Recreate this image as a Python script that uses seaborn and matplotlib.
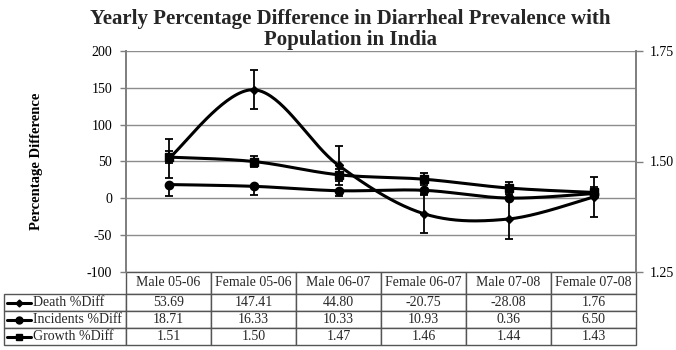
import numpy as np
import pandas as pd
import matplotlib
matplotlib.use("Agg")
import matplotlib.pyplot as plt
import seaborn as sns

# data
categories = ["Male 05-06", "Female 05-06", "Male 06-07", "Female 06-07", "Male 07-08", "Female 07-08"]
death = [53.69, 147.41, 44.80, -20.75, -28.08, 1.76]
incidents = [18.71, 16.33, 10.33, 10.93, 0.36, 6.50]
growth = [1.51, 1.50, 1.47, 1.46, 1.44, 1.43]
death_err = [26.6, 26.6, 26.6, 26.6, 26.6, 26.6]
incidents_err_low = [15, 12, 7, 7, 0.3, 3]
growth_err = [0.013, 0.013, 0.013, 0.013, 0.013, 0.013]
row_labels = ["Death %Diff", "Incidents %Diff", "Growth %Diff"]
title_lines = ["Yearly Percentage Difference in Diarrheal Prevalence with", "Population in India"]

sns.set_theme(style="white")
plt.rcParams["font.family"] = ["Liberation Serif", "DejaVu Serif"]
plt.rcParams["axes.unicode_minus"] = False


def smooth(xs, ys, n=40):
    # excel-like smoothed line (bezier with catmull-rom control points)
    xs = np.asarray(xs, float)
    ys = np.asarray(ys, float)
    px = np.concatenate([[xs[0]], xs, [xs[-1]]])
    py = np.concatenate([[ys[0]], ys, [ys[-1]]])
    outx, outy = [], []
    t = np.linspace(0, 1, n)
    for i in range(1, len(px) - 2):
        p0 = np.array([px[i], py[i]])
        p3 = np.array([px[i + 1], py[i + 1]])
        c1 = p0 + (np.array([px[i + 1], py[i + 1]]) - np.array([px[i - 1], py[i - 1]])) / 6
        c2 = p3 - (np.array([px[i + 2], py[i + 2]]) - np.array([px[i], py[i]])) / 6
        b = ((1 - t) ** 3)[:, None] * p0 + (3 * (1 - t) ** 2 * t)[:, None] * c1 \
            + (3 * (1 - t) * t ** 2)[:, None] * c2 + (t ** 3)[:, None] * p3
        outx.extend(b[:, 0])
        outy.extend(b[:, 1])
    return pd.DataFrame({"x": outx, "y": outy})


fig = plt.figure(figsize=(6.76, 3.5), dpi=100)
ax = fig.add_axes([126 / 676, 1 - 272 / 350, 510 / 676, 221 / 350])
ax2 = ax.twinx()

x = np.arange(len(categories))
lw = 2.2

# primary axis: death and incidents
ax.errorbar(x, death, yerr=death_err, fmt="none", ecolor="black", elinewidth=1.3, capsize=3, capthick=1.3, zorder=3)
ax.errorbar(x, incidents, yerr=[incidents_err_low, [0] * 6], fmt="none", ecolor="black",
            elinewidth=1.3, capsize=3, capthick=1.3, zorder=3)
d = smooth(x, death)
sns.lineplot(data=d, x="x", y="y", ax=ax, color="black", linewidth=lw, sort=False, estimator=None, zorder=4)
i_ = smooth(x, incidents)
sns.lineplot(data=i_, x="x", y="y", ax=ax, color="black", linewidth=lw, sort=False, estimator=None, zorder=4)
ax.plot(x, death, linestyle="none", marker="D", markersize=4, color="black", zorder=5)
ax.plot(x, incidents, linestyle="none", marker="o", markersize=6, color="black", zorder=5)

# secondary axis: growth
ax2.errorbar(x, growth, yerr=growth_err, fmt="none", ecolor="black", elinewidth=1.3, capsize=3, capthick=1.3, zorder=3)
g = smooth(x, growth)
sns.lineplot(data=g, x="x", y="y", ax=ax2, color="black", linewidth=lw, sort=False, estimator=None, zorder=4)
ax2.plot(x, growth, linestyle="none", marker="s", markersize=6, color="black", zorder=5)

ax.set_xlim(-0.5, len(categories) - 0.5)
ax.set_ylim(-100, 200)
ax.set_yticks(range(-100, 201, 50))
ax.set_xticks([])
ax.set_xlabel("")
ax.set_ylabel("Percentage Difference", fontsize=10.5, fontweight="bold", color="black")
ax.yaxis.set_label_coords((43 - 126) / 510, 0.5)
ax.yaxis.grid(True, color="#8c8c8c", linewidth=1)
ax.tick_params(axis="y", which="both", left=True, length=4, width=1, color="#7f7f7f",
               labelsize=10, labelcolor="black", pad=6)

ax2.set_ylim(1.25, 1.75)
ax2.set_yticks([1.25, 1.50, 1.75])
ax2.set_yticklabels(["1.25", "1.50", "1.75"])
ax2.set_ylabel("")
ax2.tick_params(axis="y", right=True, length=5, width=1, color="#7f7f7f", labelsize=10, labelcolor="black", pad=5)
ax2.grid(False)

for a in (ax, ax2):
    a.spines["top"].set_visible(False)
    a.spines["bottom"].set_visible(False)
    a.spines["left"].set_color("#7f7f7f")
    a.spines["right"].set_color("#7f7f7f")
    a.set_facecolor("none")

# data table under the plot
cell_text = []
for lbl, vals in zip(row_labels, [death, incidents, growth]):
    cell_text.append([lbl] + [f"{v:.2f}" for v in vals])
label_w = 122 / 510
col_w = 85 / 510
tbl = ax.table(cellText=cell_text, colLabels=[""] + categories, cellLoc="center",
               colWidths=[label_w] + [col_w] * len(categories),
               bbox=[(4 - 126) / 510, -73 / 221, (632) / 510, 73 / 221])
tbl.auto_set_font_size(False)
tbl.set_fontsize(10)
for (r, c), cell in tbl.get_celld().items():
    cell.set_edgecolor("#555555")
    cell.set_linewidth(1)
    cell.set_height(22 if r == 0 else 17)
    if r == 0 and c == 0:
        cell.visible_edges = ""
    if c == 0 and r > 0:
        cell._loc = "left"
        cell.PAD = 29 / 122
        cell.get_text().set_ha("left")

# legend keys inside the row label cells
markers = [("D", 3.5), ("o", 5), ("s", 5)]
for k, (m, ms) in enumerate(markers):
    yy = -(22 + 17 * (k + 0.5)) / 221
    ax.plot([(7 - 126) / 510, (31 - 126) / 510], [yy, yy], transform=ax.transAxes, clip_on=False,
            color="black", linewidth=2.2)
    ax.plot([(19 - 126) / 510], [yy], transform=ax.transAxes, clip_on=False,
            marker=m, markersize=ms, color="black")

# two-line title
fig.text(0.518, 1 - 24 / 350, title_lines[0], ha="center", va="baseline", fontsize=15, fontweight="bold")
fig.text(0.518, 1 - 45 / 350, title_lines[1], ha="center", va="baseline", fontsize=15, fontweight="bold")

fig.savefig("out.png", dpi=100)
